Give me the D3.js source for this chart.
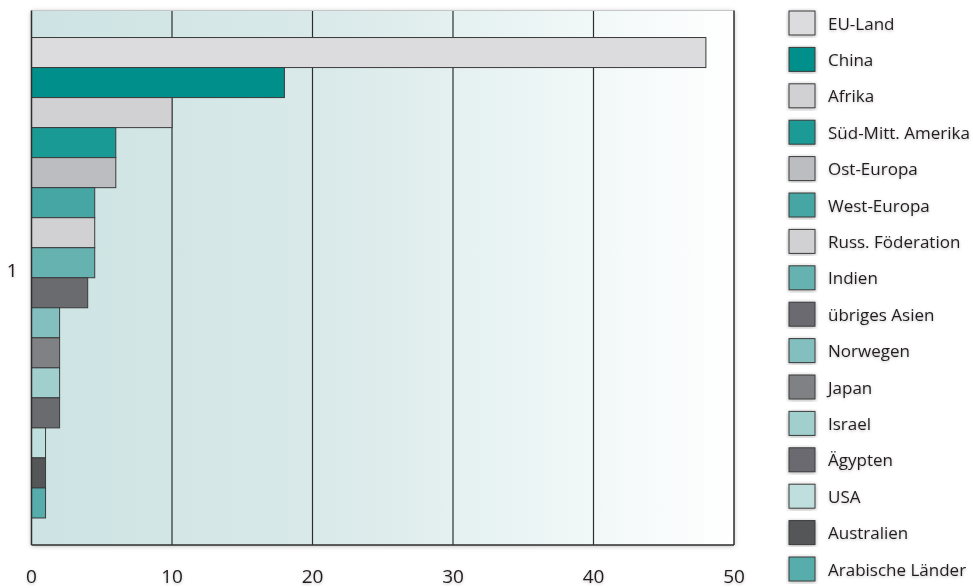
<!DOCTYPE html>
<html>
<head>
<meta charset="utf-8">
<script src="https://cdn.jsdelivr.net/npm/d3@7"></script>
<style>
  body { margin: 0; background: #fff; }
  svg { display: block; }
</style>
</head>
<body>
<div id="chart"></div>
<script>
// Data
const categories = ["1"];
const seriesNames = [
    "EU-Land", "China", "Afrika", "Süd-Mitt. Amerika", "Ost-Europa",
    "West-Europa", "Russ. Föderation", "Indien", "übriges Asien", "Norwegen",
    "Japan", "Israel", "Ägypten", "USA", "Australien", "Arabische Länder"
];
const seriesValues = [48, 18, 10, 6, 6, 4.5, 4.5, 4.5, 4, 2, 2, 2, 2, 1, 1, 1];
const seriesColors = [
    "#dcdcde", "#008f8a", "#d1d1d3", "#1a9a95", "#bcbdc0",
    "#45a6a3", "#d1d1d3", "#66b2b1", "#6a6b6f", "#82bfbe",
    "#808184", "#a0cfce", "#6a6b6f", "#bfdfde", "#555658", "#56adab"
];
const xTicks = [0, 10, 20, 30, 40, 50];

// Set up dimensions and margins
const width = 973;
const height = 588;
const margin = { top: 10.5, left: 31.5 };
const plotW = 702.5;
const plotH = 534.5;
const font = "'Open Sans', 'Noto Sans', sans-serif";

const svg = d3.select("#chart")
    .append("svg")
    .attr("width", width)
    .attr("height", height);

const defs = svg.append("defs");

const grad = defs.append("linearGradient")
    .attr("id", "bg")
    .attr("x1", "0%").attr("x2", "100%")
    .attr("y1", "0%").attr("y2", "0%");
grad.append("stop").attr("offset", "0%").attr("stop-color", "#cde3e3");
grad.append("stop").attr("offset", "45%").attr("stop-color", "#dbeaea");
grad.append("stop").attr("offset", "75%").attr("stop-color", "#eef6f6");
grad.append("stop").attr("offset", "100%").attr("stop-color", "#ffffff");

const shadow = defs.append("filter")
    .attr("id", "shadow")
    .attr("x", "-10%").attr("y", "-10%")
    .attr("width", "120%").attr("height", "120%");
shadow.append("feDropShadow")
    .attr("dx", 0).attr("dy", 1)
    .attr("stdDeviation", 2.5)
    .attr("flood-color", "#000")
    .attr("flood-opacity", 0.3);

const textShadow = defs.append("filter")
    .attr("id", "tshadow")
    .attr("x", "-20%").attr("y", "-30%")
    .attr("width", "140%").attr("height", "160%");
textShadow.append("feDropShadow")
    .attr("dx", 0).attr("dy", 1)
    .attr("stdDeviation", 1.5)
    .attr("flood-color", "#000")
    .attr("flood-opacity", 0.25);

const g = svg.append("g")
    .attr("transform", `translate(${margin.left},${margin.top})`);

// Scales
const x = d3.scaleLinear().domain([0, 50]).range([0, plotW]);
const y0 = d3.scaleBand().domain(categories).range([0, plotH]).padding(0);
const y1 = d3.scaleBand()
    .domain(seriesNames)
    .range([0, y0.bandwidth()])
    .paddingInner(0)
    .paddingOuter(0.9);

// Plot background with shadow
g.append("rect")
    .attr("width", plotW)
    .attr("height", plotH)
    .attr("fill", "url(#bg)")
    .attr("filter", "url(#shadow)");

// Vertical grid lines
g.selectAll(".grid")
    .data(xTicks.slice(1, -1))
    .join("line")
    .attr("x1", d => x(d)).attr("x2", d => x(d))
    .attr("y1", 0).attr("y2", plotH)
    .attr("stroke", "#2e2e2e")
    .attr("stroke-width", 1.2);

// Bars
const groups = g.selectAll(".cat")
    .data(categories)
    .join("g")
    .attr("transform", d => `translate(0,${y0(d)})`);

groups.selectAll("rect")
    .data(() => seriesNames.map((name, i) => ({ name, value: seriesValues[i], color: seriesColors[i] })))
    .join("rect")
    .attr("x", x(0))
    .attr("y", d => y1(d.name))
    .attr("width", d => x(d.value) - x(0))
    .attr("height", y1.bandwidth())
    .attr("fill", d => d.color)
    .attr("stroke", "#3a3a3a")
    .attr("stroke-width", 1);

// Frame
g.append("line")
    .attr("x1", 0).attr("x2", plotW).attr("y1", 0).attr("y2", 0)
    .attr("stroke", "#c4c6c8").attr("stroke-width", 1.2);
g.append("line")
    .attr("x1", 0).attr("x2", 0).attr("y1", 0).attr("y2", plotH)
    .attr("stroke", "#2e2e2e").attr("stroke-width", 1.5);
g.append("line")
    .attr("x1", plotW).attr("x2", plotW).attr("y1", 0).attr("y2", plotH)
    .attr("stroke", "#2e2e2e").attr("stroke-width", 1.5);
g.append("line")
    .attr("x1", 0).attr("x2", plotW).attr("y1", plotH).attr("y2", plotH)
    .attr("stroke", "#2e2e2e").attr("stroke-width", 1.5);

// X tick labels
g.selectAll(".xtick")
    .data(xTicks)
    .join("text")
    .attr("x", d => x(d))
    .attr("y", plotH + 37.5)
    .attr("text-anchor", "middle")
    .attr("font-family", font)
    .attr("font-size", "19px")
    .attr("fill", "#231f20")
    .attr("filter", "url(#tshadow)")
    .text(d => d);

// Category label
g.selectAll(".ycat")
    .data(categories)
    .join("text")
    .attr("x", -14)
    .attr("y", d => y0(d) + y0.bandwidth() / 2 - 0.5)
    .attr("text-anchor", "end")
    .attr("font-family", font)
    .attr("font-size", "19px")
    .attr("fill", "#231f20")
    .attr("filter", "url(#tshadow)")
    .text(d => d);

// Legend
const legend = svg.append("g")
    .attr("transform", "translate(789,11)");

const items = legend.selectAll(".item")
    .data(seriesNames)
    .join("g")
    .attr("transform", (d, i) => `translate(0,${i * 36.4})`);

items.append("rect")
    .attr("width", 26)
    .attr("height", 24)
    .attr("fill", (d, i) => seriesColors[i])
    .attr("stroke", "#3a3a3a")
    .attr("stroke-width", 1)
    .attr("filter", "url(#shadow)");

items.append("text")
    .attr("x", 39)
    .attr("y", 18.5)
    .attr("font-family", font)
    .attr("font-size", "17px")
    .attr("fill", "#231f20")
    .attr("filter", "url(#tshadow)")
    .text(d => d);
</script>
</body>
</html>
